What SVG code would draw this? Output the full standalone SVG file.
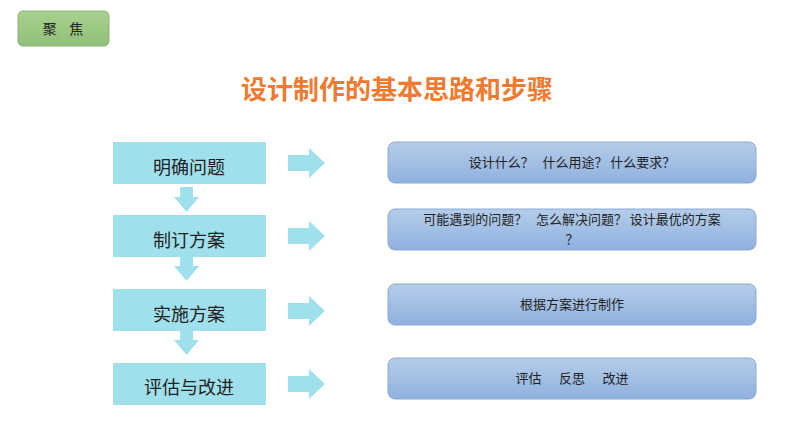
<svg xmlns="http://www.w3.org/2000/svg" width="794" height="447" viewBox="0 0 794 447">
<defs>
<linearGradient id="g" x1="0" y1="0" x2="0" y2="1"><stop offset="0" stop-color="#b5cdea"/><stop offset="1" stop-color="#8fb0de"/></linearGradient>
<linearGradient id="gg" x1="0" y1="0" x2="0" y2="1"><stop offset="0" stop-color="#a9d08e"/><stop offset="1" stop-color="#8fc07a"/></linearGradient>
<style>
.t{font-family:"Noto Sans CJK SC",sans-serif;fill:#222;white-space:pre}
.step{fill:#9fe0ec}
.box{fill:url(#g);stroke:#8eaad6;stroke-width:1}
.ar{fill:#9fe0ec}
</style>
</defs>
<rect width="794" height="447" fill="#fff"/>
<g id="tag"><rect x="18" y="11" width="91" height="35" rx="5" fill="url(#gg)" stroke="#8fb07a"/><text class="t" x="63" y="34" font-size="14" text-anchor="middle" xml:space="preserve">聚    焦</text></g>
<text x="397" y="99" font-family="Noto Sans CJK SC,sans-serif" font-size="26" font-weight="bold" fill="#ee7b30" text-anchor="middle">设计制作的基本思路和步骤</text>
<g id="connectors">
<rect x="180" y="187" width="13" height="10" class="ar"/><polygon points="174,197 199,197 186.5,212" class="ar"/>
<rect x="180" y="256" width="13" height="10" class="ar"/><polygon points="174,266 199,266 186.5,281" class="ar"/>
<rect x="180" y="330" width="13" height="10" class="ar"/><polygon points="174,340 199,340 186.5,355" class="ar"/>
<polygon points="288,155 309,155 309,148 325,163 309,178 309,171 288,171" class="ar"/>
<polygon points="288,228 309,228 309,221 325,236 309,251 309,244 288,244" class="ar"/>
<polygon points="288,303 309,303 309,296 325,311 309,326 309,319 288,319" class="ar"/>
<polygon points="288,376 309,376 309,369 325,384 309,399 309,392 288,392" class="ar"/>
</g>
<g id="s1"><rect x="113" y="142" width="153" height="42" class="step"/><text class="t" x="189" y="174" font-size="18" text-anchor="middle">明确问题</text></g>
<g id="s2"><rect x="113" y="215" width="153" height="42" class="step"/><text class="t" x="189" y="247" font-size="18" text-anchor="middle">制订方案</text></g>
<g id="s3"><rect x="113" y="289" width="153" height="42" class="step"/><text class="t" x="189" y="321" font-size="18" text-anchor="middle">实施方案</text></g>
<g id="s4"><rect x="113" y="363" width="153" height="42" class="step"/><text class="t" x="189" y="394" font-size="18" text-anchor="middle">评估与改进</text></g>
<g id="b1"><rect x="388" y="142" width="368" height="41" rx="7" class="box"/><text class="t" x="572" y="167" font-size="13" text-anchor="middle" xml:space="preserve">设计什么？   什么用途？ 什么要求？</text></g>
<g id="b2"><rect x="388" y="209" width="368" height="41" rx="7" class="box"/><text class="t" x="572" y="224" font-size="13" text-anchor="middle" xml:space="preserve">可能遇到的问题？   怎么解决问题？ 设计最优的方案</text><text class="t" x="572" y="244" font-size="13" text-anchor="middle">？</text></g>
<g id="b3"><rect x="388" y="284" width="368" height="41" rx="7" class="box"/><text class="t" x="572" y="309" font-size="13" text-anchor="middle">根据方案进行制作</text></g>
<g id="b4"><rect x="388" y="358" width="368" height="41" rx="7" class="box"/><text class="t" x="572" y="383" font-size="13" text-anchor="middle" xml:space="preserve">评估      反思      改进</text></g>
</svg>
